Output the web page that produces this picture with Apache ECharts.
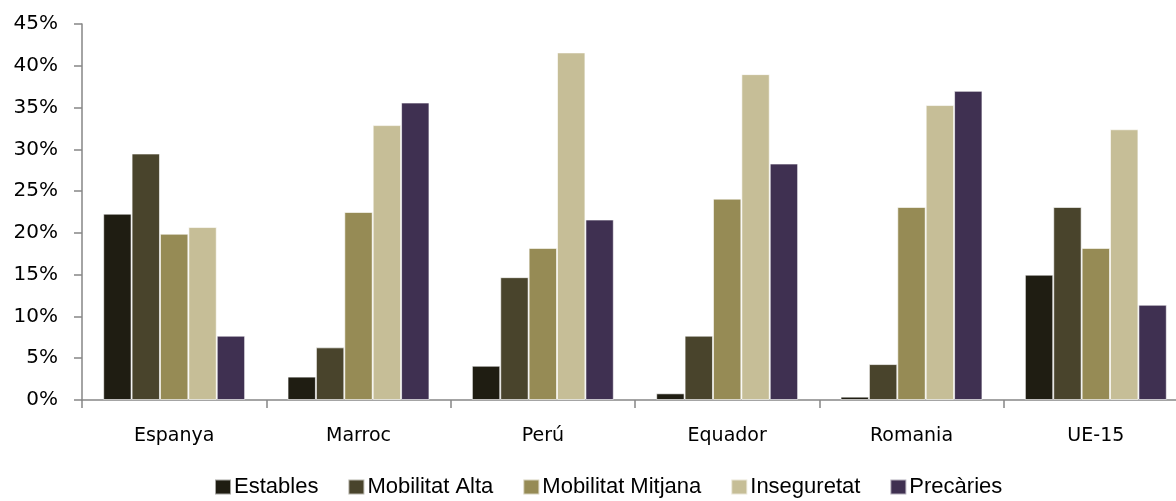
<!DOCTYPE html>
<html><head><meta charset="utf-8">
<script src="https://cdn.jsdelivr.net/npm/echarts@6/dist/echarts.min.js"></script>
<style>html,body{margin:0;padding:0;background:#fff;overflow:hidden}#c{width:1190px;height:501px}</style>
</head><body><div id="c"></div>
<script>
var categories = ['Espanya', 'Marroc', 'Perú', 'Equador', 'Romania', 'UE-15'];
var seriesNames = ['Estables', 'Mobilitat Alta', 'Mobilitat Mitjana', 'Inseguretat', 'Precàries'];
var estables = [22.3, 2.8, 4.1, 0.8, 0.4, 15.0];
var mobilitatAlta = [29.5, 6.3, 14.7, 7.7, 4.3, 23.1];
var mobilitatMitjana = [19.9, 22.5, 18.2, 24.1, 23.1, 18.2];
var inseguretat = [20.7, 32.9, 41.6, 39.0, 35.3, 32.4];
var precaries = [7.7, 35.6, 21.6, 28.3, 37.0, 11.4];
var colors = ['#1F1D12', '#49442C', '#968B55', '#C6BE97', '#3F3051'];
var values = [estables, mobilitatAlta, mobilitatMitjana, inseguretat, precaries];

var chart = echarts.init(document.getElementById('c'));
chart.setOption({
  animation: false,
  backgroundColor: '#fff',
  grid: {left: 82, width: 1106, top: 24, height: 376, containLabel: false},
  legend: {
    top: 471, left: 209,
    itemWidth: 16, itemHeight: 15, itemGap: 29,
    icon: 'rect',
    textStyle: {fontFamily: '"Liberation Sans", Arial, sans-serif', fontSize: 22, color: '#000', padding: [0, 0, 0, -2]},
    data: seriesNames
  },
  xAxis: {
    type: 'category', data: categories,
    axisLine: {lineStyle: {color: '#868686', width: 1.5}},
    axisTick: {show: true, length: 8, lineStyle: {color: '#868686', width: 1.5}},
    axisLabel: {margin: 27, fontFamily: '"DejaVu Sans", sans-serif', fontSize: 19, color: '#000'}
  },
  yAxis: {
    type: 'value', min: 0, max: 45, interval: 5,
    splitLine: {show: false},
    axisLine: {show: true, lineStyle: {color: '#868686', width: 1.5}},
    axisTick: {show: true, length: 8, lineStyle: {color: '#868686', width: 1.5}},
    axisLabel: {margin: 24, fontFamily: '"DejaVu Sans", sans-serif', fontSize: 20, color: '#000', formatter: '{value}%'}
  },
  series: values.map(function (v, i) {
    return {
      name: seriesNames[i], type: 'bar', data: v,
      barGap: '0%', barCategoryGap: '23%',
      itemStyle: {color: colors[i], borderColor: 'rgba(255,255,255,0.6)', borderWidth: 1}
    };
  })
});
</script></body></html>
